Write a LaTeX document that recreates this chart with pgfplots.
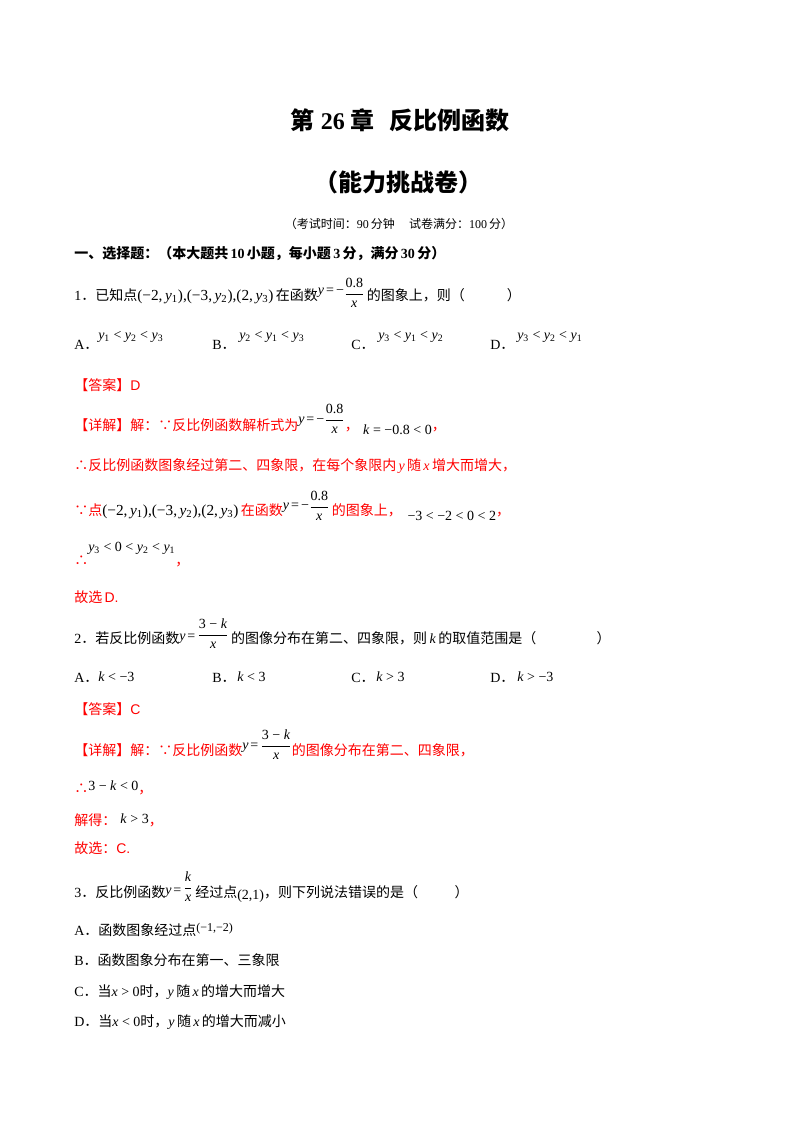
\documentclass[border=0pt]{standalone}
\usepackage{pgfplots}
\pgfplotsset{compat=1.18}
\usepackage{fontspec}
\setmainfont{Liberation Serif}
\setsansfont{Liberation Sans}
\newfontfamily\cjk{Noto Sans CJK SC}
\definecolor{ans}{HTML}{FF0000}
\newcommand\zh[1]{{\cjk #1}}
\newcommand\iv[1]{\textit{#1}}
\newcommand\ys[1]{\textit{y}\textsubscript{#1}}
\newcommand\B[1]{{\color{black}#1}}
\newcommand\cg[1]{{\fontsize{11.5}{12}\selectfont #1}}
\newcommand\fr[2]{$\displaystyle{\hbox{#1}\over\hbox{#2}}$}
\newcommand\eq{\hspace{1.5pt}=\hspace{1.5pt}}
\newcommand\fs{\fontsize{10.5}{12}\selectfont}
\newcommand\T[3]{\node[anchor=base west,inner sep=0pt,font=\fs] at (axis cs:#1,#2) {#3};}
\newcommand\R[3]{\node[anchor=base west,inner sep=0pt,font=\fs,text=ans] at (axis cs:#1,#2) {#3};}
\begin{document}
\begin{tikzpicture}
\begin{axis}[width=600pt,height=849pt,scale only axis,
  xmin=0,xmax=800,ymin=0,ymax=1132,y dir=reverse,hide axis,clip=false]
\fill[white] (rel axis cs:0,0) rectangle (rel axis cs:1,1);
\addplot[draw=none] coordinates {(0,0) (800,1132)};
% titles
\node[anchor=base,inner sep=0pt,font=\fontsize{18}{20}\selectfont\bfseries] at (axis cs:400,129) {\zh{第}~26~\zh{章}\hspace{0.6em}\zh{反比例函数}};
\node[anchor=base,inner sep=0pt,font=\fontsize{18}{20}\selectfont\bfseries] at (axis cs:398,191) {\zh{（能力挑战卷）}};
\node[anchor=base,inner sep=0pt,font=\fontsize{9}{10}\selectfont] at (axis cs:399,228.5) {\zh{（考试时间：}90\,\zh{分钟}\hspace{1.2em}\zh{试卷满分：}100\,\zh{分）}};
\node[anchor=base west,inner sep=0pt,font=\fs\bfseries] at (axis cs:74,258) {\zh{一、选择题：（本大题共}\,10\,\zh{小题，每小题}\,3\,\zh{分，满分}\,30\,\zh{分）}};
% Q1
\T{74}{300.5}{1\zh{．已知点}\cg{(−2,\,\ys{1}),(−3,\,\ys{2}),(2,\,\ys{3})}\,\zh{在函数}\raisebox{4.5pt}{\iv{y}\eq−}\raisebox{2.2pt}{\fr{0.8}{\iv{x}}}\,\zh{的图象上，则（}\hspace{3em}\zh{）}}
\T{74}{349}{A\zh{．}}
\T{98}{339}{\ys{1} < \ys{2} < \ys{3}}
\T{212}{349}{B\zh{．}}
\T{239}{339}{\ys{2} < \ys{1} < \ys{3}}
\T{351}{349}{C\zh{．}}
\T{378}{339}{\ys{3} < \ys{1} < \ys{2}}
\T{490}{349}{D\zh{．}}
\T{517}{339}{\ys{3} < \ys{2} < \ys{1}}
\R{74}{390}{\zh{【答案】}{\sffamily D}}
\R{74}{430}{\zh{【详解】解：∵反比例函数解析式为}\raisebox{5pt}{\B{\iv{y}\eq−}}\raisebox{4.6pt}{\B{\fr{0.8}{\iv{x}}}}\zh{，}\hspace{0.3em}\raisebox{-3.5pt}{\B{\iv{k} = −0.8 < 0}}\zh{，}}
\R{74}{470}{\zh{∴反比例函数图象经过第二、四象限，在每个象限内}\,\iv{y}\,\zh{随}\,\iv{x}\,\zh{增大而增大，}}
\R{74}{515}{\zh{∵点}\B{\cg{(−2,\,\ys{1}),(−3,\,\ys{2}),(2,\,\ys{3})}}\,\zh{在函数}\raisebox{4pt}{\B{\iv{y}\eq−}}\raisebox{3.2pt}{\B{\fr{0.8}{\iv{x}}}}\,\zh{的图象上，}\hspace{0.4em}\raisebox{-4.2pt}{\B{−3 < −2 < 0 < 2}}\zh{，}}
\R{74}{565}{\zh{∴}\raisebox{10.3pt}{\B{\ys{3} < 0 < \ys{2} < \ys{1}}}\zh{，}}
\R{74}{602}{\zh{故选}\,{\sffamily D.}}
% Q2
\T{74}{643}{2\zh{．若反比例函数}\raisebox{2pt}{\iv{y}\eq}\raisebox{3.3pt}{\fr{3 − \iv{k}}{\iv{x}}}\,\zh{的图像分布在第二、四象限，则}\,\iv{k}\,\zh{的取值范围是（}\hspace{4.3em}\zh{）}}
\T{74}{682.6}{A\zh{．}}
\T{98}{681.5}{\iv{k} < −3}
\T{212}{682.6}{B\zh{．}}
\T{237}{681.5}{\iv{k} < 3}
\T{351}{682.6}{C\zh{．}}
\T{376}{681.5}{\iv{k} > 3}
\T{490}{682.6}{D\zh{．}}
\T{517}{681.5}{\iv{k} > −3}
\R{74}{714}{\zh{【答案】}{\sffamily C}}
\R{74}{755}{\zh{【详解】解：∵反比例函数}\raisebox{4.5pt}{\B{\iv{y}\eq}}\raisebox{4pt}{\B{\fr{3 − \iv{k}}{\iv{x}}}}\zh{的图像分布在第二、四象限，}}
\R{74}{793}{\zh{∴}\raisebox{1.8pt}{\B{3 − \iv{k} < 0}}\zh{，}}
\R{74}{825}{\zh{解得：}\hspace{0.3em}\raisebox{1.5pt}{\B{\iv{k} > 3}}\zh{，}}
\R{74}{853}{\zh{故选：}{\sffamily C.}}
% Q3
\T{74}{897}{3\zh{．反比例函数}\raisebox{2pt}{\iv{y}\eq}\raisebox{4pt}{\fr{\iv{k}}{\iv{x}}}\,\zh{经过点}\raisebox{-2pt}{(2,1)}\zh{，则下列说法错误的是（}\hspace{2.6em}\zh{）}}
\T{74}{935}{A\zh{．函数图象经过点}\raisebox{3pt}{\fontsize{9}{10}\selectfont(−1,−2)}}
\T{74}{965}{B\zh{．函数图象分布在第一、三象限}}
\T{74}{996}{C\zh{．当}\iv{x} > 0\zh{时，}\iv{y}\,\zh{随}\,\iv{x}\,\zh{的增大而增大}}
\T{74}{1026}{D\zh{．当}\iv{x} < 0\zh{时，}\iv{y}\,\zh{随}\,\iv{x}\,\zh{的增大而减小}}
\end{axis}
\end{tikzpicture}
\end{document}
